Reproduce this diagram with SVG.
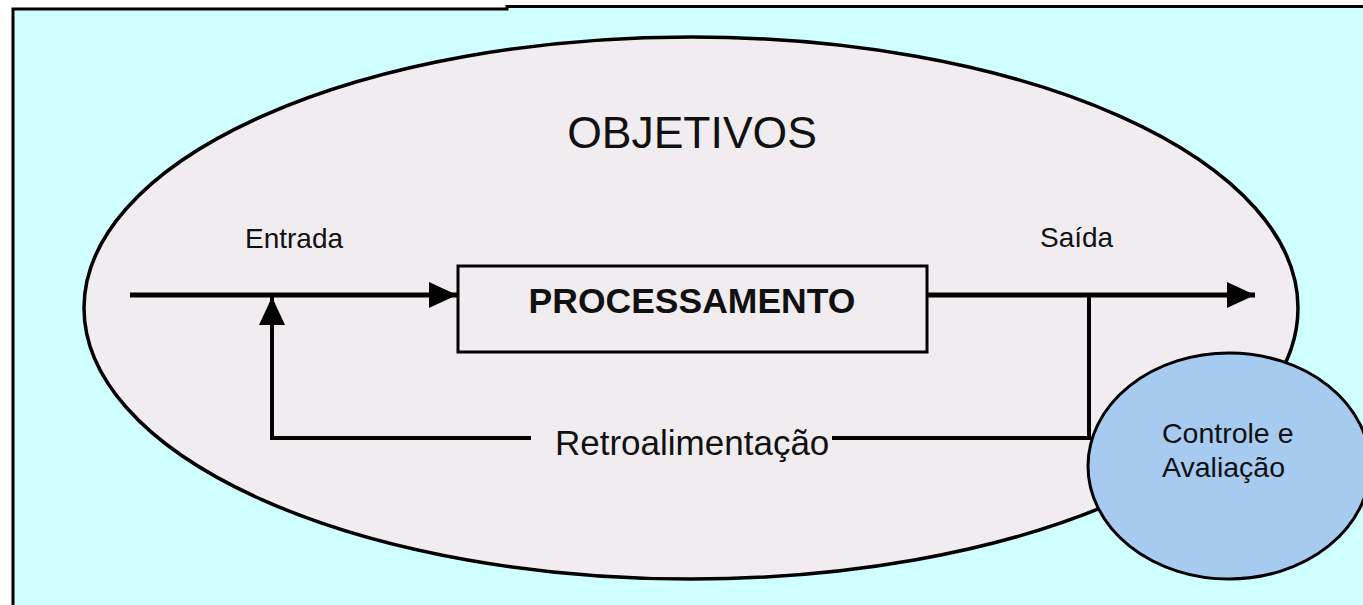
<svg xmlns="http://www.w3.org/2000/svg" width="1363" height="605" viewBox="0 0 1363 605">
<defs>
<style>
.t{font-family:"Liberation Sans",Arial,sans-serif;fill:#111}
.ln{stroke:#000;fill:none}
</style>
<marker id="ah" viewBox="0 0 28 26" refX="28" refY="13" markerWidth="28" markerHeight="26" markerUnits="userSpaceOnUse" orient="auto">
<path d="M0,0 L28,13 L0,26 Z" fill="#000"/>
</marker>
</defs>
<rect width="1363" height="605" fill="#fff"/>
<g id="background">
<rect x="13" y="8" width="1352" height="600" fill="#CFFFFF"/>
<path d="M13,605 V9 H507 V6.5 H1363" stroke="#000" stroke-width="3" fill="none"/>
</g>
<g id="objetivos">
<ellipse cx="691" cy="308" rx="607" ry="271" fill="#F0ECF0" stroke="#000" stroke-width="3.5"/>
<text class="t" x="692" y="148" font-size="44.5" text-anchor="middle">OBJETIVOS</text>
</g>
<g id="connectors">
<line class="ln" x1="130" y1="295" x2="457" y2="295" stroke-width="5" marker-end="url(#ah)"/>
<line class="ln" x1="927" y1="295" x2="1255" y2="295" stroke-width="5" marker-end="url(#ah)"/>
<polyline class="ln" points="1089,295 1089,438 272,438 272,297" stroke-width="4" marker-end="url(#ah)"/>
</g>
<g id="entrada"><text class="t" x="245" y="248" font-size="28">Entrada</text></g>
<g id="saida"><text class="t" x="1040" y="247" font-size="28">Saída</text></g>
<g id="processamento">
<rect x="458" y="266" width="469" height="86" fill="#F0ECF0" stroke="#000" stroke-width="3"/>
<text class="t" x="692" y="313" font-size="35.5" font-weight="bold" text-anchor="middle">PROCESSAMENTO</text>
</g>
<g id="retroalimentacao">
<rect x="531" y="424" width="301" height="36" fill="#F0ECF0"/>
<text class="t" x="555" y="455" font-size="35">Retroalimentação</text>
</g>
<g id="controle">
<ellipse cx="1229" cy="466" rx="141" ry="113" fill="#A6CAF0" stroke="#000" stroke-width="3"/>
<text class="t" font-size="28.5"><tspan x="1162" y="443">Controle e</tspan><tspan x="1162" y="477">Avaliação</tspan></text>
</g>
</svg>
